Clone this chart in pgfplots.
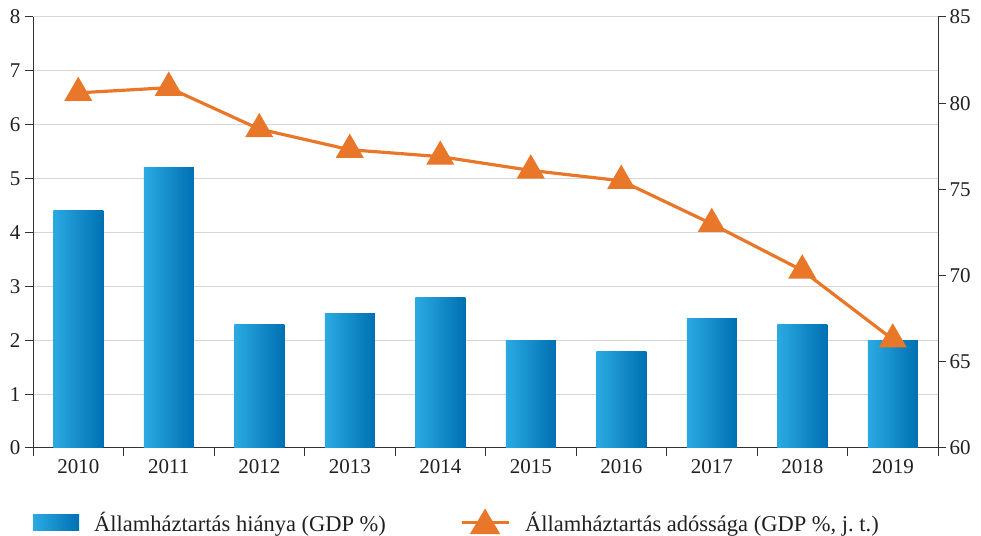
\documentclass[border=0pt]{standalone}
\usepackage{fontspec}
\setmainfont{Liberation Serif}
\usepackage{pgfplots}
\pgfplotsset{compat=1.18}
\usetikzlibrary{calc}
\definecolor{barL}{HTML}{2BAAE2}
\definecolor{barR}{HTML}{0070B2}
\definecolor{lineor}{HTML}{E8772A}
\definecolor{gridc}{HTML}{D6D6D6}
\definecolor{axc}{HTML}{333333}
\definecolor{txt}{HTML}{231F20}
\begin{document}
\begin{tikzpicture}
\pgfplotsset{
  common/.style={
    scale only axis, width=905pt, height=431pt,
    xmin=-0.5, xmax=9.5,
    font=\fontsize{21}{25}\selectfont,
    /pgf/number format/assume math mode=true,
    tick align=outside, major tick length=8pt,
    axis line style={axc, line width=1pt},
    tick style={axc, line width=1pt},
    ticklabel style={txt},
  },
  bar/.style={ybar, bar width=50pt, bar shift=0pt, draw=none, left color=barL, right color=barR},
}
\begin{axis}[common,
  ymin=0, ymax=8, ytick={0,1,...,8},
  axis x line*=bottom, axis y line*=left,
  xtick={-0.5,0.5,...,9.5},
  xticklabels={2010,2011,2012,2013,2014,2015,2016,2017,2018,2019,{}},
  xticklabel style={xshift=45.25pt},
  ymajorgrids, grid style={gridc, line width=1pt},
  yticklabel style={xshift=-1pt},
]
\addplot[bar] coordinates {(0,4.4)};
\addplot[bar] coordinates {(1,5.2)};
\addplot[bar] coordinates {(2,2.3)};
\addplot[bar] coordinates {(3,2.5)};
\addplot[bar] coordinates {(4,2.8)};
\addplot[bar] coordinates {(5,2.0)};
\addplot[bar] coordinates {(6,1.8)};
\addplot[bar] coordinates {(7,2.4)};
\addplot[bar] coordinates {(8,2.3)};
\addplot[bar] coordinates {(9,2.0)};
\coordinate (sw) at (rel axis cs:0,0);
\coordinate (ne) at (rel axis cs:1,1);
\end{axis}
\begin{axis}[common,
  ymin=60, ymax=85, ytick={60,65,...,85},
  axis x line=none, axis y line*=right,
  legend columns=2,
  legend style={draw=none, fill=none, at={(0,-0.172)}, anchor=west, inner sep=0pt,
    font=\fontsize{22.5}{26}\selectfont,
    nodes={inner sep=0pt, text=txt}, column sep=15pt,
    /tikz/every even column/.append style={column sep=74pt}},
]
\addlegendimage{legend image code/.code={\fill[draw=none, left color=barL, right color=barR] (0pt,-8pt) rectangle (46pt,8pt);}}
\addlegendentry{Államháztartás hiánya (GDP \%)}
\addplot[lineor, line width=3.2pt, mark=triangle*, mark size=13pt, mark options={fill=lineor, draw=none},
  legend image code/.code={\draw[lineor, line width=3.2pt] (0pt,0pt)--(47pt,0pt);
    \fill[lineor] (11pt,-10pt)--(36pt,-10pt)--(23.5pt,11pt)--cycle;}]
  coordinates {(0,80.6) (1,80.9) (2,78.5) (3,77.3) (4,76.9) (5,76.1) (6,75.5) (7,73.0) (8,70.3) (9,66.3)};
\addlegendentry{Államháztartás adóssága (GDP \%, j.\ t.)}
\end{axis}
\pgfresetboundingbox
\path[use as bounding box] ($(sw)+(-33pt,-88pt)$) rectangle ($(ne)+(43pt,17pt)$);
\end{tikzpicture}
\end{document}
